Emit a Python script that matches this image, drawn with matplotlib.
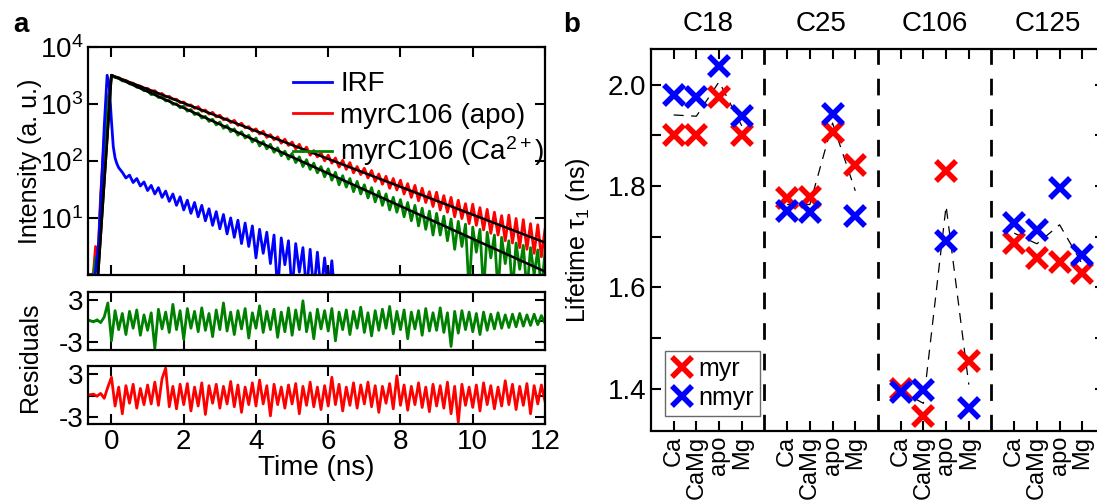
import numpy as np
import matplotlib
matplotlib.use("Agg")
import matplotlib.pyplot as plt
from matplotlib.ticker import MultipleLocator, LogLocator, NullFormatter
from matplotlib.lines import Line2D

plt.rcParams['font.family'] = ['Liberation Sans', 'DejaVu Sans']
plt.rcParams['mathtext.fontset'] = 'custom'
plt.rcParams['mathtext.rm'] = 'Liberation Sans'
plt.rcParams['mathtext.it'] = 'Liberation Sans:italic'
plt.rcParams['axes.unicode_minus'] = False

# ---------------- panel a data (log10 of counts) ----------------
t_rise = [-0.65, -0.5, -0.44, -0.4, -0.36, -0.3, -0.2, -0.1]
red_rise = [0.0, 0.02, 0.5, 0.2, 0.5, 1.4, 2.4, 3.05]
green_rise = [0.0, 0.0, 0.3, 0.1, 0.4, 1.3, 2.3, 3.0]

t_decay = np.linspace(0, 12, 121)
red_decay = [3.50, 3.47, 3.46, 3.42, 3.41, 3.37, 3.36, 3.32, 3.31, 3.27,
             3.27, 3.22, 3.23, 3.17, 3.18, 3.12, 3.13, 3.08, 3.08, 3.02,
             3.03, 2.97, 2.98, 2.92, 2.95, 2.87, 2.89, 2.82, 2.85, 2.77,
             2.80, 2.72, 2.74, 2.67, 2.71, 2.62, 2.66, 2.58, 2.60, 2.52,
             2.56, 2.47, 2.52, 2.41, 2.46, 2.37, 2.42, 2.31, 2.38, 2.27,
             2.33, 2.21, 2.29, 2.16, 2.24, 2.10, 2.18, 2.07, 2.14, 2.00,
             2.10, 1.96, 2.05, 1.89, 2.01, 1.85, 1.97, 1.79, 1.90, 1.76,
             1.87, 1.70, 1.83, 1.64, 1.77, 1.59, 1.73, 1.52, 1.69, 1.49,
             1.66, 1.42, 1.60, 1.36, 1.57, 1.30, 1.52, 1.27, 1.46, 1.20,
             1.45, 1.14, 1.39, 1.10, 1.36, 1.02, 1.31, 0.99, 1.25, 0.90,
             1.24, 0.87, 1.18, 0.79, 1.15, 0.73, 1.10, 0.70, 1.04, 0.60,
             1.05, 0.56, 0.99, 0.48, 0.97, 0.45, 0.90, 0.38, 0.88, 0.32,
             0.80]
green_decay = [3.50, 3.46, 3.45, 3.40, 3.40, 3.35, 3.34, 3.29, 3.28, 3.23,
               3.23, 3.16, 3.18, 3.11, 3.12, 3.05, 3.06, 2.99, 3.00, 2.93,
               2.96, 2.87, 2.90, 2.81, 2.84, 2.75, 2.78, 2.69, 2.73, 2.63,
               2.68, 2.57, 2.62, 2.51, 2.56, 2.45, 2.51, 2.40, 2.45, 2.33,
               2.40, 2.26, 2.34, 2.21, 2.29, 2.15, 2.23, 2.09, 2.17, 2.03,
               2.13, 1.97, 2.07, 1.90, 2.02, 1.85, 1.96, 1.79, 1.90, 1.72,
               1.86, 1.66, 1.80, 1.58, 1.74, 1.54, 1.69, 1.46, 1.64, 1.42,
               1.58, 1.35, 1.53, 1.28, 1.47, 1.22, 1.42, 1.14, 1.36, 1.10,
               1.32, 1.02, 1.27, 0.95, 1.22, 0.86, 1.17, 0.80, 1.12, 0.70,
               1.08, 0.70, 1.03, 0.60, 0.98, 0.45, 0.94, 0.50, 0.89, -0.3,
               0.84, 0.40, 0.80, -0.3, 0.75, 0.30, 0.70, -0.3, 0.66, 0.20,
               0.60, -0.3, 0.56, 0.10, 0.52, -0.3, 0.48, 0.00, 0.44, -0.3,
               0.40]

t_irf_rise = [-0.65, -0.45, -0.35, -0.28, -0.2, -0.12, -0.06, 0.0, 0.05, 0.1, 0.15, 0.2]
irf_rise = [0.0, 0.0, 0.6, 1.5, 2.6, 3.50, 3.3, 2.7, 2.25, 2.05, 1.95, 1.88]
t_irf_tail = np.linspace(0.3, 6.2, 60)
irf_tail = [1.80, 1.70, 1.75, 1.62, 1.69, 1.56, 1.63, 1.48, 1.57, 1.42,
            1.53, 1.36, 1.47, 1.29, 1.42, 1.22, 1.37, 1.14, 1.31, 1.08,
            1.27, 1.02, 1.22, 0.95, 1.16, 0.87, 1.11, 0.81, 1.06, 0.72,
            1.00, 0.66, 0.96, 0.55, 0.91, 0.50, 0.86, 0.30, 0.80, 0.38,
            0.75, 0.20, 0.70, -0.3, 0.65, 0.18, 0.60, -0.3, 0.55, 0.05,
            0.48, -0.3, 0.45, -0.3, 0.40, -0.3, 0.30, -0.3, 0.25, -0.5]

# fits (start of rise, peak, end)
fit_t = [-0.37, 0.0, 12.0]
fit_apo = [1.0, 3160, 3.7]
fit_ca = [1.0, 3160, 1.15]

# residuals
t_res = np.linspace(-0.6, 12, 127)
res_ca = [0.1, -0.1, 0.2, -0.2, 0.6, 2.6,
          -2.8, 1.5, -1.2, 1.1, -1.9, 1.4, -1.0, 1.6, -2.0, 0.9,
          -1.3, 1.2, -3.9, 1.7, -1.1, 1.3, -1.6, 2.4, -1.2, 1.5,
          -2.6, 1.8, -1.0, 1.4, -1.5, 1.9, -1.3, 1.1, -2.2, 1.6,
          -1.2, 2.6, -1.4, 1.3, -1.9, 1.5, -1.1, 1.8, -2.4, 1.2,
          -1.0, 2.2, -1.6, 1.4, -1.2, 1.7, -2.3, 1.3, -1.5, 1.9,
          -2.0, 1.6, -1.2, 2.9, -1.5, 1.2, -2.5, 1.7, -1.1, 1.5,
          -1.4, 1.8, -2.8, 1.3, -1.2, 1.6, -1.9, 1.4, -1.0, 2.0,
          -1.6, 1.2, -2.1, 1.5, -1.3, 1.7, -1.0, 2.1, -1.8, 1.4,
          -1.2, 1.6, -2.5, 1.3, -1.1, 1.5, -2.0, 1.8, -1.4, 1.2,
          -1.3, 1.9, -1.6, 1.2, -3.6, 1.4, -1.7, 1.5, -1.2, 1.3,
          -1.5, 1.1, -1.9, 1.3, -1.3, 1.0, -1.1, 1.2, -1.0, 0.9,
          -0.9, 1.0, -0.8, 1.1, -0.7, 0.9, -0.6, 1.0, -0.5, 0.8,
          -0.3]
res_apo = [0.1, 0.2, -0.1, 0.3, -0.4, 1.2,
           2.6, -1.5, 1.2, -2.6, 1.4, -1.1, 1.6, -1.8, 1.0, -1.3,
           1.5, -1.2, 1.9, -1.4, 2.4, 3.9, -1.6, 1.3, -1.9, 1.6,
           -1.3, 1.7, -2.2, 1.2, -1.5, 1.8, -2.7, 1.4, -1.1, 1.6,
           -1.8, 1.3, -1.2, 2.0, -1.6, 1.5, -2.4, 1.2, -1.3, 1.8,
           -1.5, 2.2, -1.2, 1.4, -2.9, 1.6, -1.3, 1.2, -1.8, 1.5,
           -1.2, 1.7, -2.6, 1.3, -1.4, 1.9, -1.6, 1.2, -2.0, 1.4,
           -1.5, 2.6, -1.3, 1.6, -2.2, 1.2, -1.4, 1.8, -1.8, 1.5,
           -1.2, 1.9, -1.6, 1.4, -2.4, 1.3, -1.1, 1.7, -1.9, 2.8,
           -1.4, 1.5, -2.1, 1.3, -1.3, 1.8, -1.7, 1.2, -2.3, 1.6,
           -1.5, 1.4, -1.8, 1.9, -2.6, 1.3, -3.8, 1.6, -1.4, 1.2,
           -1.7, 1.5, -2.2, 1.8, -1.3, 1.4, -1.9, 1.2, -1.5, 2.1,
           -1.3, 1.6, -2.0, 1.3, -1.4, 1.7, -2.6, 1.4, -1.2, 1.5,
           -0.8]

# ---------------- panel b data ----------------
groups = ['C18', 'C25', 'C106', 'C125']
conditions = ['Ca', 'CaMg', 'apo', 'Mg']
tau_myr = [[1.90, 1.90, 1.975, 1.90],
           [1.777, 1.778, 1.907, 1.841],
           [1.40, 1.346, 1.83, 1.455],
           [1.687, 1.658, 1.651, 1.628]]
tau_nmyr = [[1.98, 1.975, 2.036, 1.937],
            [1.75, 1.749, 1.941, 1.74],
            [1.393, 1.397, 1.691, 1.362],
            [1.727, 1.714, 1.796, 1.664]]

BLUE = '#0000ff'
RED = '#ff0000'
GREEN = '#008000'
FS = 20

fig = plt.figure(figsize=(10.97, 5.0), dpi=100)
ax = fig.add_axes([0.0802, 0.45, 0.4166, 0.4566])
axr1 = fig.add_axes([0.0802, 0.30, 0.4166, 0.1166])
axr2 = fig.add_axes([0.0802, 0.1514, 0.4166, 0.1166])
axb = fig.add_axes([0.5934, 0.139, 0.4139, 0.763])


def style(a):
    for s in a.spines.values():
        s.set_linewidth(1.6)
    a.tick_params(which='both', direction='in', top=True, right=True,
                  width=1.5, labelsize=FS)
    a.tick_params(which='major', length=7)
    a.tick_params(which='minor', length=4)


# main decay panel
ax.plot(t_rise + list(t_decay), 10 ** np.array(red_rise + red_decay), color=RED, lw=2.0)
ax.plot(t_rise + list(t_decay), 10 ** np.array(green_rise + green_decay), color=GREEN, lw=2.0)
ax.plot(t_irf_rise + list(t_irf_tail), 10 ** np.array(irf_rise + irf_tail), color=BLUE, lw=2.0)
ax.plot(fit_t, fit_apo, color='black', lw=1.8)
ax.plot(fit_t, fit_ca, color='black', lw=1.8)
ax.set_yscale('log')
ax.set_ylim(1, 1e4)
ax.set_xlim(-0.65, 12)
ax.set_yticks([10, 100, 1000, 10000])
ax.set_yticklabels(['10$^1$', '10$^2$', '10$^3$', '10$^4$'])
ax.yaxis.set_minor_locator(LogLocator(base=10, subs=np.arange(2, 10)))
ax.yaxis.set_minor_formatter(NullFormatter())
ax.set_xticks(range(0, 13, 2))
ax.set_xticklabels([])
style(ax)
ax.set_ylabel('Intensity (a. u.)', fontsize=18)
ax.yaxis.set_label_coords(-0.1, 0.5)

handles = [Line2D([], [], color=BLUE, lw=2), Line2D([], [], color=RED, lw=2),
           Line2D([], [], color=GREEN, lw=2)]
ax.legend(handles, ['IRF', 'myrC106 (apo)', 'myrC106 (Ca$^{2+}$)'], loc='upper right',
          bbox_to_anchor=(1.035, 0.965), frameon=False, fontsize=FS, handlelength=1.4,
          handletextpad=0.3, labelspacing=0.2, borderpad=0.1)

# residuals
for a, r, c in [(axr1, res_ca, GREEN), (axr2, res_apo, RED)]:
    a.plot(t_res, r, color=c, lw=2.0)
    a.set_xlim(-0.65, 12)
    a.set_ylim(-4.1, 4.2)
    a.set_yticks([-3, 0, 3])
    a.set_yticklabels(['-3', '', '3'])
    a.set_xticks(range(0, 13, 2))
    style(a)
axr1.set_xticklabels([])
axr2.set_xlabel('Time (ns)', fontsize=FS, labelpad=0)
fig.text(0.027, 0.285, 'Residuals', rotation=90, fontsize=18, ha='center', va='center')

# panel b
for g in range(len(groups)):
    xs = [g * 5 + i + 1 for i in range(len(conditions))]
    mean = (np.array(tau_myr[g]) + np.array(tau_nmyr[g])) / 2
    axb.plot(xs, mean, color='black', lw=0.9, ls=(0, (8, 6)), zorder=1)
    axb.plot(xs, tau_myr[g], ls='none', marker='x', ms=14, mew=4, color=RED, zorder=3,
             label='myr' if g == 0 else None)
    axb.plot(xs, tau_nmyr[g], ls='none', marker='x', ms=14, mew=4, color=BLUE, zorder=4,
             label='nmyr' if g == 0 else None)
    axb.text(g * 5 + 2.5, 2.093, groups[g], ha='center', va='bottom', fontsize=FS)
for d in [5, 10, 15]:
    axb.axvline(d, color='black', lw=2, ls=(0, (6, 5)), zorder=0)

axb.set_xlim(0, 20)
axb.set_ylim(1.318, 2.07)
ticks = [g * 5 + i + 1 for g in range(len(groups)) for i in range(len(conditions))]
axb.set_xticks(ticks)
axb.set_xticklabels(conditions * len(groups), rotation=90)
axb.set_yticks([1.4, 1.6, 1.8, 2.0])
axb.set_yticklabels(['1.4', '1.6', '1.8', '2.0'])
axb.yaxis.set_minor_locator(MultipleLocator(0.1))
style(axb)
axb.tick_params(axis='x', labelsize=17, pad=4)
axb.tick_params(which='minor', length=7)
axb.set_ylabel('Lifetime τ$_1$ (ns)', fontsize=18)
axb.yaxis.set_label_coords(-0.13, 0.5)
leg = axb.legend(loc='lower left', bbox_to_anchor=(0.03, 0.038), fontsize=18, fancybox=False,
                 edgecolor='#444444', handlelength=0.9, handletextpad=0.2, borderpad=0.25,
                 labelspacing=0.2, borderaxespad=0)
leg.get_frame().set_linewidth(1.0)

fig.text(0.012, 0.935, 'a', fontsize=FS, fontweight='bold')
fig.text(0.513, 0.935, 'b', fontsize=FS, fontweight='bold')

fig.savefig('out.png', dpi=100)
